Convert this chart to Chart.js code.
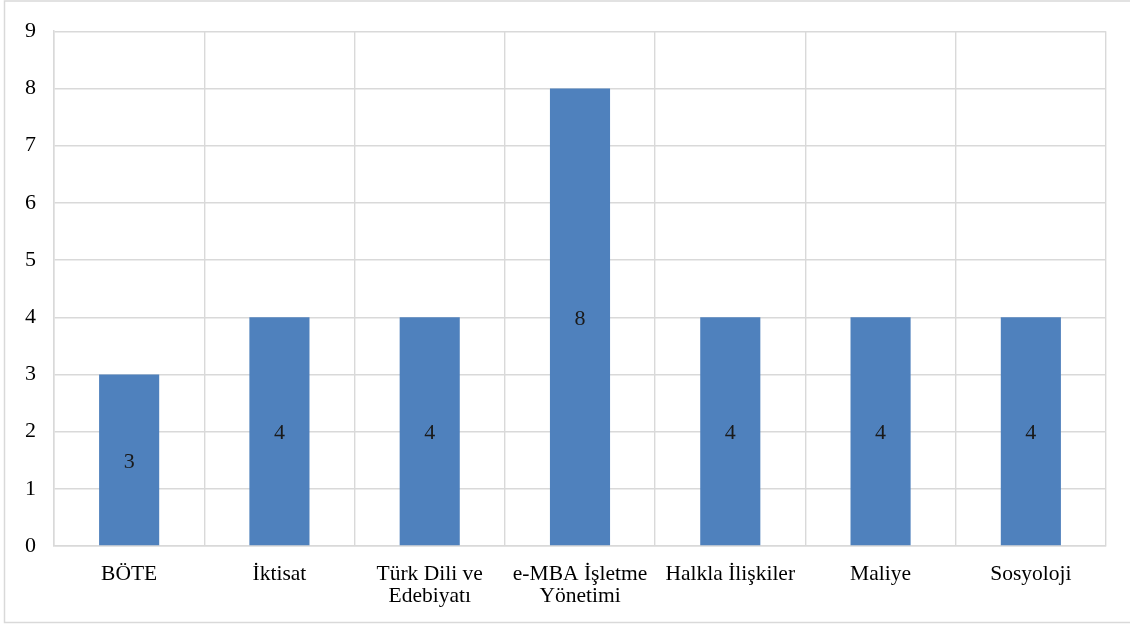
<!DOCTYPE html>
<html>
<head>
<meta charset="utf-8">
<script src="https://cdn.jsdelivr.net/npm/chart.js@4"></script>
<style>
  html, body { margin: 0; padding: 0; background: #fff; }
  #wrap { width: 1130px; height: 624px; position: relative; }
</style>
</head>
<body>
<div id="wrap"><canvas id="chart"></canvas></div>
<script>
const categories = [
  'BÖTE',
  'İktisat',
  ['Türk Dili ve', 'Edebiyatı'],
  ['e-MBA İşletme', 'Yönetimi'],
  'Halkla İlişkiler',
  'Maliye',
  'Sosyoloji'
];
const counts = [3, 4, 4, 8, 4, 4, 4];
const yTicks = [0, 1, 2, 3, 4, 5, 6, 7, 8, 9];

const FONT = "'Liberation Serif', 'Times New Roman', serif";
const GRID = '#d9d9d9';

// draws the value in the middle of each bar
const barLabels = {
  id: 'barLabels',
  afterDatasetsDraw(chart) {
    const ctx = chart.ctx;
    const meta = chart.getDatasetMeta(0);
    ctx.save();
    ctx.font = '22px ' + FONT;
    ctx.fillStyle = '#1a1a1a';
    ctx.textAlign = 'center';
    ctx.textBaseline = 'middle';
    meta.data.forEach((bar, i) => {
      const mid = (bar.y + bar.base) / 2;
      ctx.fillText(String(counts[i]), bar.x, mid + 2);
    });
    ctx.restore();
  }
};

// outer frame of the chart
const frame = {
  id: 'frame',
  beforeDraw(chart) {
    const ctx = chart.ctx;
    ctx.save();
    ctx.strokeStyle = GRID;
    ctx.lineWidth = 1.5;
    ctx.beginPath();
    ctx.moveTo(chart.width + 5, 1);
    ctx.lineTo(4.5, 1);
    ctx.lineTo(4.5, 622.5);
    ctx.lineTo(chart.width + 5, 622.5);
    ctx.stroke();
    ctx.restore();
  }
};

new Chart(document.getElementById('chart'), {
  type: 'bar',
  data: {
    labels: categories,
    datasets: [{
      data: counts,
      backgroundColor: '#4f81bd',
      borderWidth: 0,
      barPercentage: 0.4,
      categoryPercentage: 1
    }]
  },
  options: {
    responsive: true,
    maintainAspectRatio: false,
    animation: false,
    layout: { padding: { left: 4, right: 24, top: 28, bottom: 0 } },
    plugins: {
      legend: { display: false },
      tooltip: { enabled: false }
    },
    scales: {
      x: {
        grid: { color: GRID, lineWidth: 1.4, drawTicks: false, offset: true },
        border: { color: GRID, width: 1.5 },
        ticks: {
          color: '#000',
          font: { family: FONT, size: 21.5, lineHeight: 1.04 },
          padding: 17,
          maxRotation: 0,
          autoSkip: false
        },
        afterFit(scale) { scale.height = 78; }
      },
      y: {
        min: 0,
        max: 9,
        afterBuildTicks(scale) { scale.ticks = yTicks.map(v => ({ value: v })); },
        grid: { color: GRID, lineWidth: 1.4, drawTicks: false },
        border: { color: GRID, width: 1.5 },
        ticks: {
          color: '#000',
          font: { family: FONT, size: 22 },
          padding: 18
        },
        afterFit(scale) { scale.width = 50; }
      }
    }
  },
  plugins: [frame, barLabels]
});
</script>
</body>
</html>
